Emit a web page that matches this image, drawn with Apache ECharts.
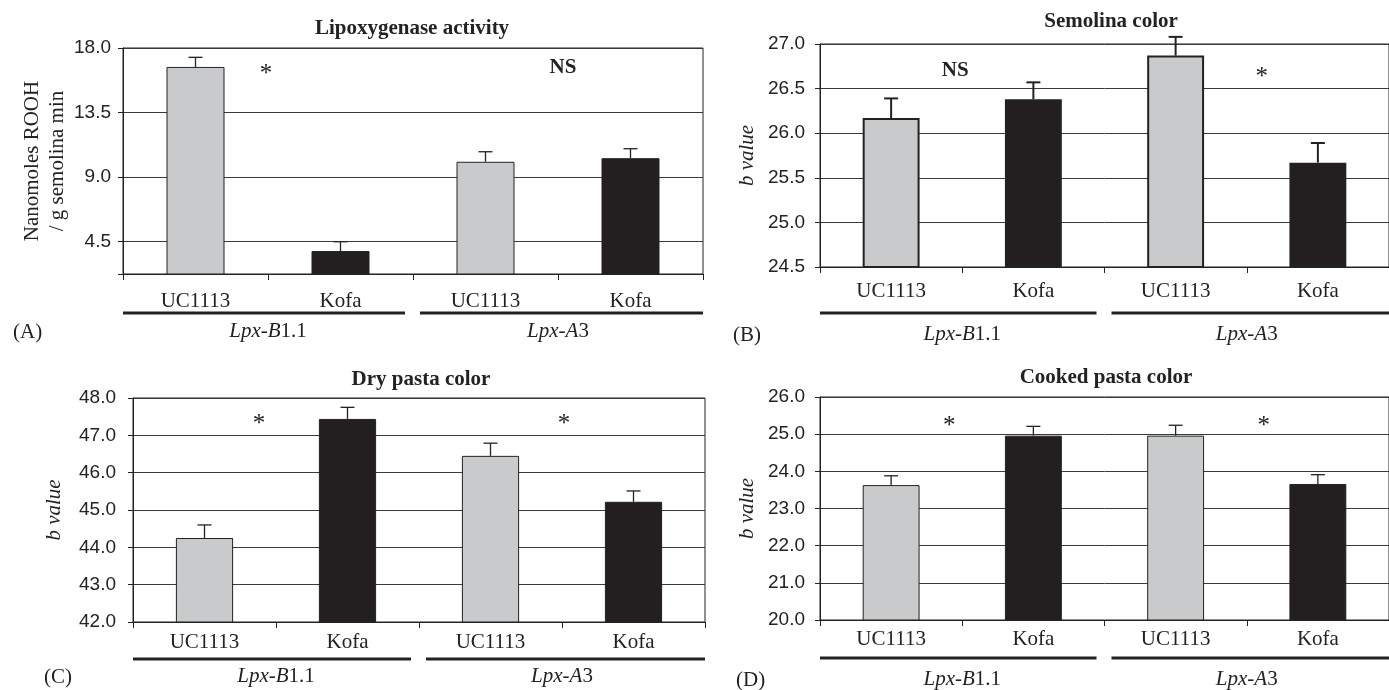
<!DOCTYPE html>
<html><head><meta charset="utf-8">
<script src="https://cdn.jsdelivr.net/npm/echarts@6/dist/echarts.min.js"></script>
<style>html,body{margin:0;padding:0;background:#fff}#c{width:1389px;height:690px}</style>
</head><body><div id="c"></div>
<script>
// ---------- data ----------
const categories = ['UC1113', 'Kofa', 'UC1113', 'Kofa'];
const groups = ['Lpx-B1.1', 'Lpx-A3'];
const titles = ['Lipoxygenase activity', 'Semolina color', 'Dry pasta color', 'Cooked pasta color'];
const panelLetters = ['(A)', '(B)', '(C)', '(D)'];
const yNames = ['Nanomoles ROOH\n/ g semolina min', 'b value', 'b value', 'b value'];
const significance = [['*', 'NS'], ['NS', '*'], ['*', '*'], ['*', '*']];

const lipoxValues = [16.68, 3.85, 10.07, 10.32];
const lipoxErrors = [0.67, 0.65, 0.70, 0.66];
const semolinaValues = [26.17, 26.38, 26.87, 25.67];
const semolinaErrors = [0.22, 0.19, 0.21, 0.22];
const dryValues = [44.25, 47.44, 46.45, 45.22];
const dryErrors = [0.35, 0.31, 0.34, 0.29];
const cookedValues = [23.63, 24.96, 24.96, 23.66];
const cookedErrors = [0.25, 0.25, 0.28, 0.25];

const yMins = [2.25, 24.5, 42, 20];
const yMaxs = [18, 27, 48, 26];
const yIntervals = [4.5, 0.5, 1, 1];
const lipoxTicks = [2.25, 4.5, 9, 13.5, 18];
const lipoxTickLabels = [4.5, 9, 13.5, 18];

// ---------- styles / layout ----------
const SERIF = '"Liberation Serif", "DejaVu Serif", serif';
const SANS = '"Liberation Sans", Arial, sans-serif';
const INK = '#222';
const barColors = ['#c9cacc', '#231f20', '#c9cacc', '#231f20'];

const values = [lipoxValues, semolinaValues, dryValues, cookedValues];
const errors = [lipoxErrors, semolinaErrors, dryErrors, cookedErrors];

const layout = [
  { grid: { left: 123, top: 48, width: 580, height: 226 }, catMargin: 17, groupMargin: 47, lineOff: 39, sigOff: 20, sigDx: [-2, 5], yMargin: 12, nameGap: 52, border: 1, errW: 1.3, title: [412, 29], letter: [13, 332] },
  { grid: { left: 820, top: 44, width: 570, height: 223 }, catMargin: 14, groupMargin: 57, lineOff: 46, sigOff: 27, sigDx: [-7, 15], yMargin: 15, nameGap: 60, border: 2, errW: 2, title: [1111, 22], letter: [733, 335] },
  { grid: { left: 133, top: 398, width: 572, height: 224 }, catMargin: 10, groupMargin: 44, lineOff: 37, sigOff: 20, sigDx: [-17, 2], yMargin: 17, nameGap: 66, border: 1, errW: 1.3, title: [421, 380], letter: [44, 677] },
  { grid: { left: 820, top: 397, width: 570, height: 223 }, catMargin: 9, groupMargin: 49, lineOff: 38, sigOff: 23, sigDx: [-13, 17], yMargin: 15, nameGap: 60, border: 1, errW: 1.3, title: [1106, 378], letter: [736, 680] }
];

const grids = [], xAxes = [], yAxes = [], series = [], graphics = [];

layout.forEach((L, k) => {
  grids.push(Object.assign({ show: true, borderColor: INK, borderWidth: 1, backgroundColor: 'transparent' }, L.grid));

  // category axis
  xAxes.push({
    type: 'category', gridIndex: k, data: categories, position: 'bottom',
    axisLine: { lineStyle: { color: INK, width: 1 } },
    axisTick: { show: true, length: 6, lineStyle: { color: INK } },
    axisLabel: { margin: L.catMargin, fontFamily: SERIF, fontSize: 21, color: INK, lineHeight: 21 },
    splitLine: { show: false }
  });
  // group axis
  xAxes.push({
    type: 'category', gridIndex: k, data: groups, position: 'bottom',
    axisLine: { show: false }, axisTick: { show: false }, splitLine: { show: false },
    axisLabel: {
      margin: L.groupMargin, lineHeight: 21,
      formatter: v => { const m = v.match(/^(Lpx-[A-Z])(.*)$/); return '{i|' + m[1] + '}{r|' + m[2] + '}'; },
      rich: {
        i: { fontFamily: SERIF, fontSize: 21, fontStyle: 'italic', color: INK, lineHeight: 21 },
        r: { fontFamily: SERIF, fontSize: 21, color: INK, lineHeight: 21 }
      }
    }
  });

  const y = {
    type: 'value', gridIndex: k, min: yMins[k], max: yMaxs[k],
    name: yNames[k], nameLocation: 'middle', nameRotate: 90, nameGap: L.nameGap,
    nameTextStyle: { fontFamily: SERIF, fontSize: 21, color: INK, fontStyle: k === 0 ? 'normal' : 'italic', lineHeight: 25 },
    axisLine: { show: true, lineStyle: { color: INK, width: 1 } },
    axisTick: { show: true, length: 5, lineStyle: { color: INK } },
    axisLabel: { margin: L.yMargin, fontFamily: SANS, fontSize: 19, color: INK, formatter: v => Number(v).toFixed(1) },
    splitLine: { show: true, lineStyle: { color: '#3a3a3a', width: 1 } }
  };
  if (k === 0) {
    y.axisTick.customValues = lipoxTicks;
    y.axisLabel.customValues = lipoxTickLabels;
  } else {
    y.interval = yIntervals[k];
  }
  yAxes.push(y);

  // bars
  series.push({
    type: 'bar', xAxisIndex: 2 * k, yAxisIndex: k, barWidth: '40%',
    data: values[k].map((v, i) => ({ value: v, itemStyle: { color: barColors[i] } })),
    itemStyle: { borderColor: INK, borderWidth: L.border },
    silent: true, z: 2
  });
  // error bars (upper)
  series.push({
    type: 'custom', xAxisIndex: 2 * k, yAxisIndex: k, clip: false, z: 3, silent: true,
    data: values[k].map((v, i) => [i, v, errors[k][i]]),
    renderItem: (params, api) => {
      const i = api.value(0), v = api.value(1), e = api.value(2);
      const base = api.coord([i, v]);
      const top = api.coord([i, v + e]);
      const hw = 7;
      const st = { stroke: INK, lineWidth: L.errW };
      return {
        type: 'group', children: [
          { type: 'line', shape: { x1: base[0], y1: base[1], x2: top[0], y2: top[1] }, style: st },
          { type: 'line', shape: { x1: top[0] - hw, y1: top[1], x2: top[0] + hw, y2: top[1] }, style: st }
        ]
      };
    }
  });
  // group underlines and significance marks
  series.push({
    type: 'custom', xAxisIndex: 2 * k + 1, yAxisIndex: k, clip: false, z: 3, silent: true,
    data: groups.map((g, i) => [i]),
    encode: { x: 0 },
    renderItem: (params, api) => {
      const idx = params.dataIndex;
      const p = api.coord([idx, yMins[k]]);
      const w = api.size([1, 0])[0];
      let x1 = p[0] - w / 2, x2 = p[0] + w / 2;
      if (idx === 0) x2 -= 8; else x1 += 7;
      const ly = p[1] + L.lineOff;
      const topY = api.coord([idx, yMaxs[k]])[1];
      const txt = significance[k][idx];
      const isStar = txt === '*';
      return {
        type: 'group', children: [
          { type: 'line', shape: { x1: x1, y1: ly, x2: x2, y2: ly }, style: { stroke: INK, lineWidth: 3 } },
          {
            type: 'text', style: {
              text: txt, x: p[0] + L.sigDx[idx], y: topY + L.sigOff + (isStar ? 6 : 0),
              align: 'center', verticalAlign: 'middle', fill: INK,
              font: isStar ? '25px ' + SERIF : 'bold 21px ' + SERIF
            }
          }
        ]
      };
    }
  });

  graphics.push({
    type: 'text', x: L.title[0], y: L.title[1], silent: true,
    style: { text: titles[k], align: 'center', verticalAlign: 'middle', fill: INK, font: 'bold 21px ' + SERIF }
  });
  graphics.push({
    type: 'text', x: L.letter[0], y: L.letter[1], silent: true,
    style: { text: panelLetters[k], align: 'left', verticalAlign: 'middle', fill: INK, font: '21px ' + SERIF }
  });
});

const chart = echarts.init(document.getElementById('c'), null, { renderer: 'canvas' });
chart.setOption({
  animation: false,
  backgroundColor: '#fff',
  grid: grids, xAxis: xAxes, yAxis: yAxes, series: series, graphic: graphics
});
</script></body></html>
